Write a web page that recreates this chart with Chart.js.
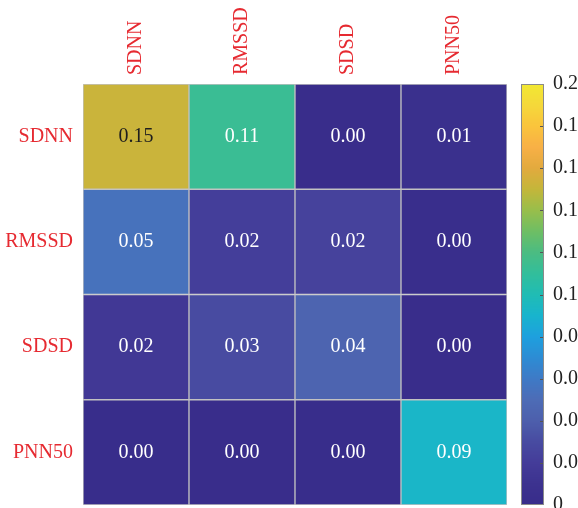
<!DOCTYPE html>
<html><head><meta charset="utf-8">
<style>html,body{margin:0;padding:0;background:#fff;overflow:hidden}#wrap{position:relative;width:578px;height:508px}</style>
<script src="https://cdn.jsdelivr.net/npm/chart.js@4/dist/chart.umd.min.js"></script>
</head><body>
<div id="wrap"><canvas id="c"></canvas></div>
<script>
// ---- data ----
const columns = ['SDNN', 'RMSSD', 'SDSD', 'PNN50'];
const rows = ['SDNN', 'RMSSD', 'SDSD', 'PNN50'];
const rowSDNN  = [0.152, 0.113, 0.002, 0.006];
const rowRMSSD = [0.054, 0.021, 0.024, 0.003];
const rowSDSD  = [0.016, 0.030, 0.044, 0.002];
const rowPNN50 = [0.001, 0.002, 0.001, 0.092];
const cbTickValues = [0, 0.02, 0.04, 0.06, 0.08, 0.10, 0.12, 0.14, 0.16, 0.18, 0.20];
const cbTickLabels = ['0', '0.0', '0.0', '0.0', '0.0', '0.1', '0.1', '0.1', '0.1', '0.1', '0.2'];
const cbMin = 0, cbMax = 0.2;

const rowValues = [rowSDNN, rowRMSSD, rowSDSD, rowPNN50];

// parula-like colour map (value stops -> rgb)
const cmapStops = [
  [0.000, [56, 44, 138]],
  [0.010, [60, 50, 143]],
  [0.020, [68, 60, 153]],
  [0.030, [72, 75, 161]],
  [0.040, [77, 95, 172]],
  [0.050, [77, 108, 182]],
  [0.060, [62, 122, 198]],
  [0.070, [45, 140, 212]],
  [0.080, [30, 160, 222]],
  [0.090, [24, 180, 205]],
  [0.100, [32, 188, 180]],
  [0.110, [50, 190, 155]],
  [0.120, [75, 188, 130]],
  [0.130, [110, 190, 100]],
  [0.140, [152, 190, 75]],
  [0.150, [196, 182, 58]],
  [0.160, [226, 170, 62]],
  [0.170, [248, 176, 70]],
  [0.180, [250, 196, 60]],
  [0.190, [245, 216, 58]],
  [0.200, [242, 232, 50]]
];
function cmapRGB(v) {
  if (v <= cmapStops[0][0]) return cmapStops[0][1];
  for (let k = 1; k < cmapStops.length; k++) {
    if (v <= cmapStops[k][0]) {
      const [v0, c0] = cmapStops[k - 1], [v1, c1] = cmapStops[k];
      const t = (v - v0) / (v1 - v0);
      return c0.map((c, i) => Math.round(c + (c1[i] - c) * t));
    }
  }
  return cmapStops[cmapStops.length - 1][1];
}
function colormap(v) { const c = cmapRGB(v); return `rgb(${c[0]},${c[1]},${c[2]})`; }

const FONT = 'Liberation Serif, Times New Roman, serif';
const RED = '#e62a31';

const cellText = {
  id: 'cellText',
  afterDatasetsDraw(chart) {
    const ctx = chart.ctx;
    ctx.save();
    ctx.font = '20px ' + FONT;
    ctx.textAlign = 'center';
    ctx.textBaseline = 'middle';
    chart.data.datasets.forEach((ds, di) => {
      const meta = chart.getDatasetMeta(di);
      meta.data.forEach((el, j) => {
        const v = ds.values[j];
        const c = cmapRGB(v);
        const lum = (0.299 * c[0] + 0.587 * c[1] + 0.114 * c[2]) / 255;
        ctx.fillStyle = lum > 0.62 ? '#1e1e1e' : '#ffffff';
        const cx = el.x;
        const cy = (el.y + el.base) / 2;
        ctx.fillText(v.toFixed(2), cx, cy);
      });
    });
    ctx.restore();
  }
};

const colorbar = {
  id: 'colorbar',
  afterDraw(chart) {
    const s = chart.scales.cb;
    const ctx = chart.ctx;
    const x0 = s.left + 14, w = 23;
    ctx.save();
    for (let y = Math.floor(s.top); y < Math.ceil(s.bottom); y++) {
      const v = s.getValueForPixel(y + 0.5);
      ctx.fillStyle = colormap(Math.max(cbMin, Math.min(cbMax, v)));
      ctx.fillRect(x0, y, w, 1);
    }
    ctx.strokeStyle = '#555';
    ctx.lineWidth = 1;
    s.ticks.forEach(t => {
      const y = Math.round(s.getPixelForValue(t.value)) + 0.5;
      if (t.value <= cbMin || t.value >= cbMax) return;
      ctx.beginPath();
      ctx.moveTo(x0 + w - 4, y);
      ctx.lineTo(x0 + w, y);
      ctx.stroke();
    });
    ctx.strokeStyle = '#8a8a8a';
    ctx.strokeRect(x0 + 0.5, Math.round(s.top) + 0.5, w - 1, Math.round(s.bottom - s.top) - 1);
    ctx.restore();
  }
};

function noPad(s) { s.paddingTop = 0; s.paddingBottom = 0; }

new Chart(document.getElementById('c'), {
  type: 'bar',
  data: {
    labels: columns,
    datasets: rowValues.map((vals, i) => ({
      label: rows[i],
      values: vals,
      data: vals.map(() => [i, i + 1]),
      backgroundColor: vals.map(colormap),
      borderColor: '#c2c2c2',
      borderWidth: 1,
      borderSkipped: false,
      grouped: false,
      barPercentage: 1,
      categoryPercentage: 1,
      xAxisID: 'x',
      yAxisID: 'y'
    }))
  },
  options: {
    responsive: true,
    maintainAspectRatio: false,
    animation: false,
    devicePixelRatio: 1,
    layout: { padding: { top: 0, bottom: 3, left: 0, right: 0 } },
    plugins: { legend: { display: false }, tooltip: { enabled: false } },
    scales: {
      x: {
        type: 'category', position: 'top', offset: true,
        grid: { display: false, drawTicks: false }, border: { display: false },
        ticks: { color: RED, font: { family: FONT, size: 20 }, minRotation: 90, maxRotation: 90, padding: 9, labelOffset: 24, autoSkip: false },
        afterFit(s) { s.height = 84; s.paddingLeft = 0; s.paddingRight = 0; }
      },
      y: { type: 'linear', min: 0, max: 4, reverse: true, display: false },
      yl: {
        type: 'category', labels: rows, position: 'left', offset: true,
        grid: { display: false, drawTicks: false }, border: { display: false },
        ticks: { color: RED, font: { family: FONT, size: 20 }, padding: 10, autoSkip: false },
        afterFit(s) { s.width = 83; noPad(s); }
      },
      cb: {
        type: 'linear', position: 'right', min: cbMin, max: cbMax,
        grid: { display: false, drawTicks: false }, border: { display: false },
        ticks: {
          color: '#222', font: { family: FONT, size: 20 }, padding: 46, autoSkip: false,
          callback: (v, idx) => cbTickLabels[idx]
        },
        afterBuildTicks(s) { s.ticks = cbTickValues.map(v => ({ value: v })); },
        afterFit(s) { s.width = 71; noPad(s); }
      }
    }
  },
  plugins: [cellText, colorbar]
});
</script>
</body></html>
